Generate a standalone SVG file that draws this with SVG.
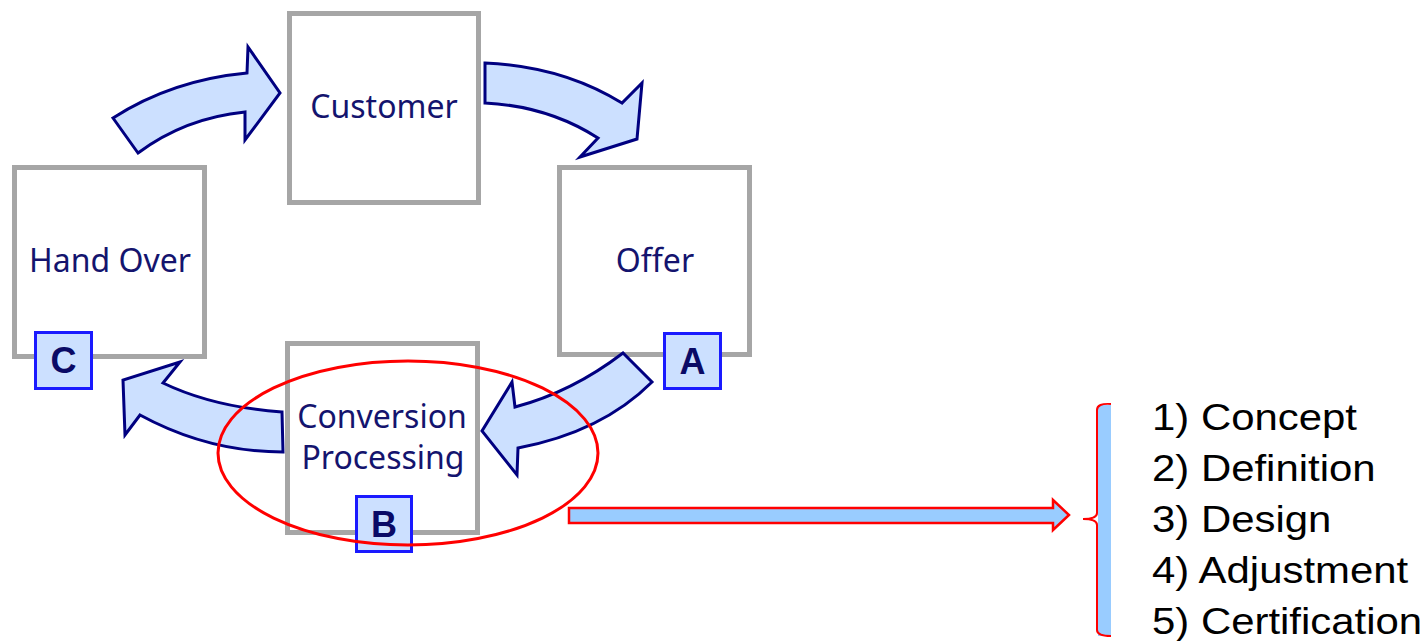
<svg xmlns="http://www.w3.org/2000/svg" width="1427" height="641" viewBox="0 0 1427 641">
<style>
.box{fill:#fff;stroke:#a6a6a6;stroke-width:5}
.lbl{font-family:"Noto Sans","Open Sans",sans-serif;font-size:32px;fill:#14146e;text-anchor:middle}
.cv{fill:#cce0ff;stroke:#000080;stroke-width:3;stroke-linejoin:miter}
.badge{fill:#cce0ff;stroke:#1a1aff;stroke-width:3}
.bt{font-family:"Liberation Sans",Arial,sans-serif;font-weight:bold;font-size:36px;fill:#0a0a66;text-anchor:middle}
.list{font-family:"Liberation Sans",Arial,sans-serif;font-size:37px;fill:#000}
</style>
<rect width="1427" height="641" fill="#fff"/>
<g id="customer"><rect class="box" x="289.5" y="13.5" width="189" height="189"/><text class="lbl" x="384" y="118">Customer</text></g>
<g id="offer"><rect class="box" x="559.5" y="167.5" width="190" height="187"/><text class="lbl" x="655" y="272">Offer</text></g>
<g id="handover"><rect class="box" x="14.5" y="167.5" width="190" height="189"/><text class="lbl" x="110" y="272">Hand Over</text></g>
<g id="conversion"><rect class="box" x="287.5" y="343.5" width="190" height="189"/><text class="lbl" x="382" y="428">Conversion</text><text class="lbl" x="383" y="469">Processing</text></g>
<g id="connectors">
<path class="cv" d="M113,118 Q172,80 247,73 L248,47 L280,93 L245,140 L245,112 Q185,118 138,153 Z"/>
<path class="cv" d="M485,63 Q562,66 622,103 L642,83 L637,139 L580,157 L598,138 Q548,106 485,103 Z"/>
<path class="cv" d="M623,353 Q572,392 515,407 L512,382 L482,431 L517,475 L518,448 Q602,432 652,382 Z"/>
<path class="cv" d="M282,412 Q213,407 163,383 L180,362 L123,380 L125,435 L140,415 Q208,452 283,452 Z"/>
<path d="M569,508 L1053,508 L1053,500 L1069,515 L1053,530 L1053,523 L569,523 Z" fill="#99ccff" stroke="#ff0000" stroke-width="2.5"/>
</g>
<g id="badgeA"><rect class="badge" x="664.5" y="333.5" width="56" height="55"/><text class="bt" x="692.5" y="374">A</text></g>
<g id="badgeB"><rect class="badge" x="356.5" y="496.5" width="55" height="55"/><text class="bt" x="384" y="537">B</text></g>
<g id="badgeC"><rect class="badge" x="35.5" y="332.5" width="56" height="56"/><text class="bt" x="63.5" y="373">C</text></g>
<ellipse id="highlight" cx="408" cy="453" rx="190" ry="92" fill="none" stroke="#ff0000" stroke-width="3"/>
<g id="brace">
<rect x="1098" y="405" width="13" height="231" fill="#99ccff"/>
<path d="M1111,404 Q1097,403 1097,410 L1097,513 Q1097,519 1083,519 Q1097,519 1097,525 L1097,630 Q1097,636 1111,636" fill="none" stroke="#ff0000" stroke-width="2"/>
</g>
<g id="list" transform="matrix(1.133 0 0 1 1152 0)">
<text class="list" x="0" y="430">1) Concept</text>
<text class="list" x="0" y="481">2) Definition</text>
<text class="list" x="0" y="532">3) Design</text>
<text class="list" x="0" y="583">4) Adjustment</text>
<text class="list" x="0" y="634">5) Certification</text>
</g>
</svg>
